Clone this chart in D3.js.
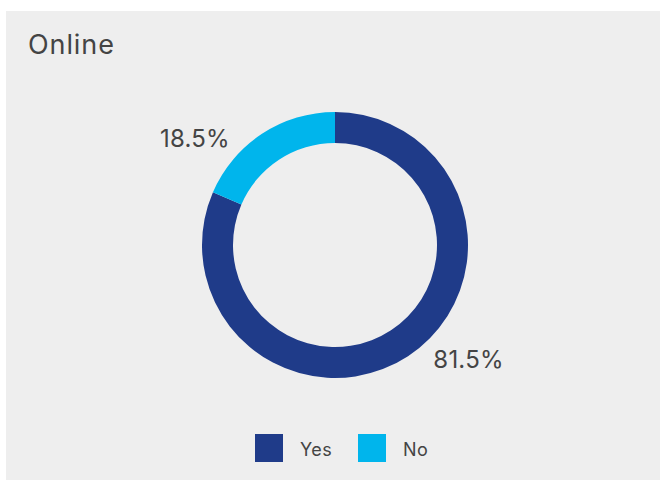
<!DOCTYPE html>
<html><head><meta charset="utf-8">
<script src="https://cdn.jsdelivr.net/npm/d3@7"></script>
<style>body{margin:0;background:#fff}svg{display:block}text{font-family:Inter,"Open Sans",sans-serif}</style>
</head><body>
<svg id="c" width="665" height="480"></svg>
<script>
const categories = ["Yes", "No"];
const values = [81.5, 18.5];
const colors = ["#1F3B89", "#00B5EC"];
const labelTexts = ["81.5%", "18.5%"];
const title = "Online";

const svg = d3.select("#c");
svg.append("rect").attr("x",6).attr("y",11).attr("width",654).attr("height",469).attr("fill","#EEEEEE");
svg.append("text").attr("x",28).attr("y",54).attr("font-size",27).attr("letter-spacing",0.9).attr("fill","#444").text(title);

const cx=335, cy=245, rOut=133, rIn=102;
const pie = d3.pie().sort(null).value(d=>d)(values);
const arc = d3.arc().innerRadius(rIn).outerRadius(rOut);
const g = svg.append("g").attr("transform",`translate(${cx},${cy})`);
g.selectAll("path").data(pie).join("path").attr("d",arc).attr("fill",(d,i)=>colors[i]);

// labels placed outside, shifted counter-clockwise from slice mid
const labelR = 176;
g.selectAll("text.lbl").data(pie).join("text").attr("class","lbl")
  .attr("text-anchor","middle").attr("dominant-baseline","central")
  .attr("font-size",24).attr("letter-spacing",0.2).attr("fill","#444")
  .attr("transform",d=>{
    const a=(d.startAngle+d.endAngle)/2 - (d.index===0?0.28:0.34);
    return `translate(${labelR*Math.sin(a)},${-labelR*Math.cos(a)})`;
  })
  .text((d,i)=>labelTexts[i]);

const lg = svg.append("g").attr("transform","translate(255,434)");
const item = lg.selectAll("g").data(categories).join("g").attr("transform",(d,i)=>`translate(${i*103},0)`);
item.append("rect").attr("width",28).attr("height",28).attr("fill",(d,i)=>colors[i]);
item.append("text").attr("x",45).attr("y",22).attr("font-size",18).attr("letter-spacing",0.4).attr("fill","#444").text(d=>d);
</script>
</body></html>
